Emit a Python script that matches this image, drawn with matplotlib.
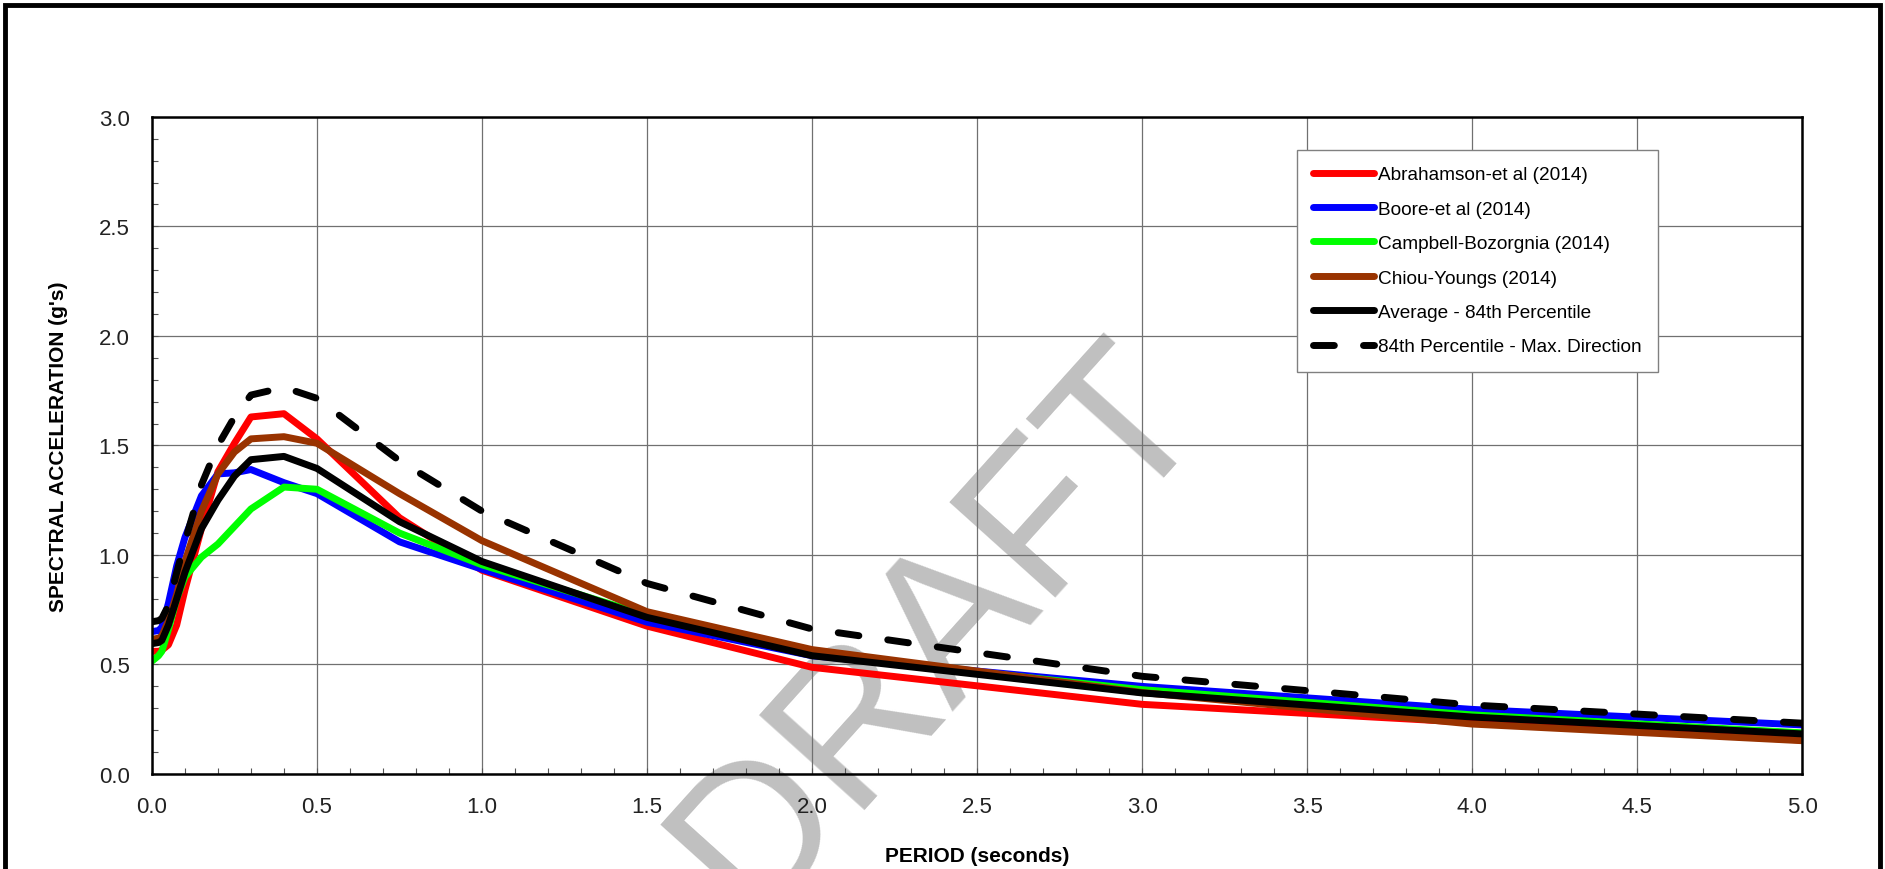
import matplotlib
matplotlib.use('Agg')
import matplotlib.pyplot as plt
from matplotlib.patches import Rectangle
from matplotlib.ticker import MultipleLocator, FormatStrFormatter

plt.rcParams['font.family'] = ['Liberation Sans', 'DejaVu Sans']

# ── data (periods in seconds, SA in g) ──
period = [0.0, 0.02, 0.03, 0.05, 0.075, 0.1, 0.15, 0.2, 0.25, 0.3, 0.4,
          0.5, 0.75, 1.0, 1.5, 2.0, 3.0, 4.0, 5.0]
ask14 = [0.56, 0.56, 0.565, 0.59, 0.68, 0.84, 1.12, 1.38, 1.51, 1.63, 1.645,
         1.53, 1.17, 0.93, 0.675, 0.487, 0.318, 0.235, 0.155]
bssa14 = [0.65, 0.655, 0.67, 0.78, 0.95, 1.08, 1.27, 1.37, 1.375, 1.39, 1.33,
          1.28, 1.06, 0.935, 0.693, 0.54, 0.40, 0.295, 0.224]
cb14 = [0.515, 0.54, 0.56, 0.66, 0.80, 0.90, 0.99, 1.05, 1.13, 1.21, 1.31,
        1.30, 1.10, 0.955, 0.725, 0.545, 0.385, 0.27, 0.188]
cy14 = [0.615, 0.62, 0.63, 0.70, 0.82, 0.97, 1.20, 1.37, 1.47, 1.53, 1.54,
        1.51, 1.28, 1.065, 0.741, 0.568, 0.372, 0.228, 0.152]
avg84 = [0.595, 0.60, 0.61, 0.68, 0.80, 0.92, 1.12, 1.25, 1.36, 1.435, 1.45,
         1.395, 1.152, 0.97, 0.715, 0.54, 0.37, 0.26, 0.183]
maxdir84 = [0.695, 0.70, 0.71, 0.77, 0.92, 1.06, 1.32, 1.50, 1.63, 1.73, 1.765,
            1.715, 1.43, 1.20, 0.87, 0.662, 0.446, 0.315, 0.232]

series = [
    ('Abrahamson-et al (2014)', ask14, '#ff0000', '-'),
    ('Boore-et al (2014)', bssa14, '#0000ff', '-'),
    ('Campbell-Bozorgnia (2014)', cb14, '#00ff00', '-'),
    ('Chiou-Youngs (2014)', cy14, '#993300', '-'),
    ('Average - 84th Percentile', avg84, '#000000', '-'),
    ('84th Percentile - Max. Direction', maxdir84, '#000000', (0, (3, 4.2))),
]

fig = plt.figure(figsize=(18.85, 8.70), dpi=100, facecolor='white')
ax = fig.add_axes([0.0806, 0.1092, 0.8755, 0.7553])
ax.set_facecolor('none')

for name, vals, col, ls in series:
    ax.plot(period, vals, color=col, ls=ls, lw=5.0, label=name,
            solid_capstyle='round', dash_capstyle='round',
            solid_joinstyle='round', zorder=3)

ax.set_xlim(0, 5)
ax.set_ylim(0, 3)
ax.xaxis.set_major_locator(MultipleLocator(0.5))
ax.xaxis.set_minor_locator(MultipleLocator(0.1))
ax.yaxis.set_major_locator(MultipleLocator(0.5))
ax.yaxis.set_minor_locator(MultipleLocator(0.1))
ax.xaxis.set_major_formatter(FormatStrFormatter('%.1f'))
ax.yaxis.set_major_formatter(FormatStrFormatter('%.1f'))
ax.grid(True, which='major', color='#707070', lw=0.9, zorder=1)
ax.set_axisbelow(True)
ax.tick_params(which='both', direction='in', top=False, right=False,
               labelsize=16, labelcolor='#222222', pad=16)
ax.tick_params(which='major', length=4, width=0.8, color='#555555')
ax.tick_params(which='minor', length=4, width=0.8, color='#555555')
for sp in ax.spines.values():
    sp.set_linewidth(1.8)
    sp.set_zorder(4)

ax.set_xlabel('PERIOD (seconds)', fontsize=15, fontweight='bold', labelpad=21)
ax.set_ylabel("SPECTRAL ACCELERATION (g's)", fontsize=15, fontweight='bold',
              labelpad=22)

leg = ax.legend(loc='upper right', bbox_to_anchor=(0.9125, 0.95), fontsize=13.7,
                handlelength=3.2, handletextpad=0.2, labelspacing=0.9,
                borderpad=0.85, borderaxespad=0, fancybox=False, framealpha=1,
                edgecolor='#808080')
leg.get_frame().set_linewidth(1.0)
leg.set_zorder(5)

# watermark behind the axes content
fig.text(0.498, 0.276, 'DRAFT', fontsize=148, color='#c0c0c0', rotation=48,
         ha='center', va='center', rotation_mode='anchor', zorder=-1)

# outer frame
fig.patches.append(Rectangle((0.0029, -0.05), 0.9947, 1.0431,
                             transform=fig.transFigure, fill=False,
                             edgecolor='black', lw=3.5, zorder=10))

fig.savefig('out.png', dpi=100, facecolor='white')
